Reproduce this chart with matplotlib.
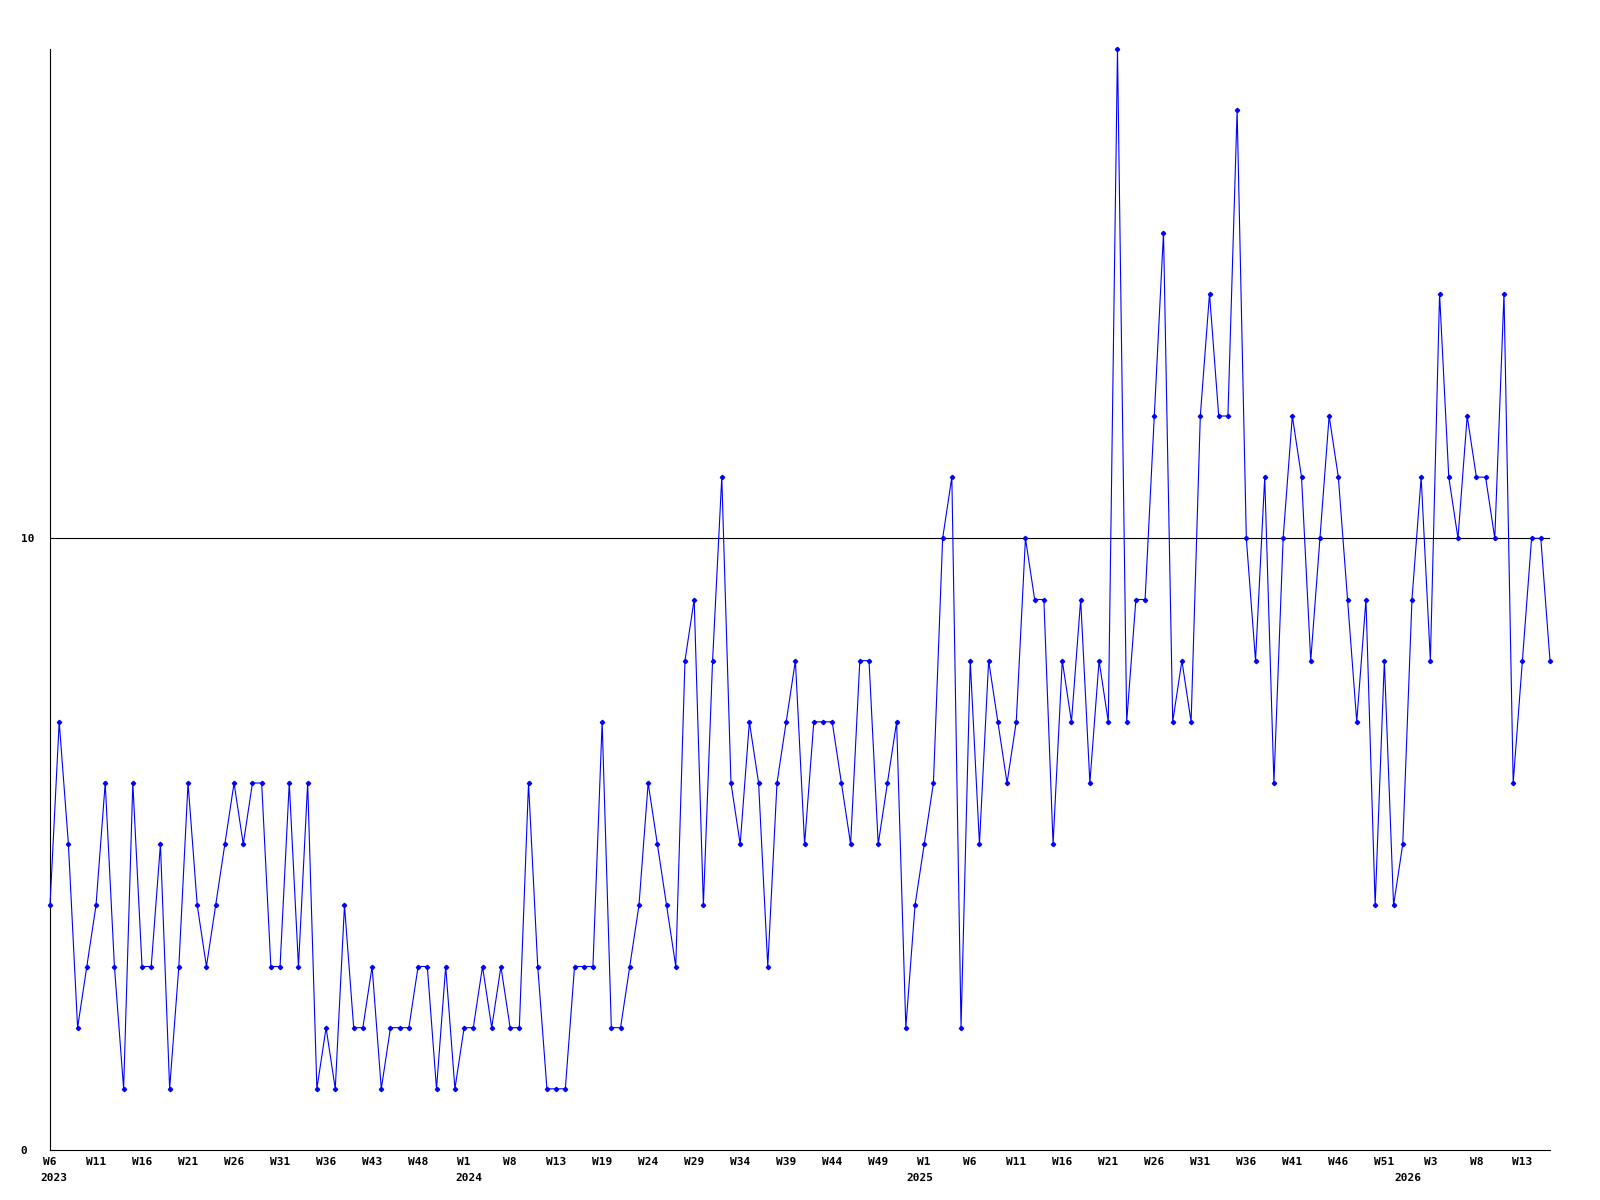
import matplotlib
matplotlib.use('Agg')
import matplotlib.pyplot as plt
import matplotlib.transforms as mtransforms

plt.rcParams["font.family"] = ["DejaVu Sans Mono"]
label_font = {'fontsize': 8, 'fontweight': 'bold'}

# weekly values, 2023 W6 .. 2026 W16
values = [4, 7, 5, 2, 3, 4, 6, 3, 1, 6, 3, 3, 5, 1, 3, 6, 4, 3, 4, 5, 6, 5, 6, 6, 3, 3, 6, 3, 6, 1,
          2, 1, 4, 2, 2, 3, 1, 2, 2, 2, 3, 3, 1, 3, 1, 2, 2, 3, 2, 3, 2, 2, 6, 3, 1, 1, 1, 3, 3, 3,
          7, 2, 2, 3, 4, 6, 5, 4, 3, 8, 9, 4, 8, 11, 6, 5, 7, 6, 3, 6, 7, 8, 5, 7, 7, 7,
          6, 5, 8, 8, 5, 6, 7, 2, 4, 5, 6, 10, 11, 2, 8, 5, 8, 7, 6, 7, 10, 9, 9, 5, 8, 7, 9, 6, 8, 7,
          18, 7, 9, 9, 12, 15, 7, 8, 7, 12, 14, 12, 12, 17, 10, 8, 11, 6, 10, 12, 11, 8,
          10, 12, 11, 9, 7, 9, 4, 8, 4, 5, 9, 11, 8, 14, 11, 10, 12, 11, 11, 10, 14, 6, 8, 10, 10, 8]

week_labels = ['W6', 'W11', 'W16', 'W21', 'W26', 'W31', 'W36', 'W43', 'W48',
               'W1', 'W8', 'W13', 'W19', 'W24', 'W29', 'W34', 'W39', 'W44', 'W49',
               'W1', 'W6', 'W11', 'W16', 'W21', 'W26', 'W31', 'W36', 'W41', 'W46', 'W51',
               'W3', 'W8', 'W13']
year_labels = ['2023', '2024', '2025', '2026']
year_pos = [-1.1, 44.0, 93.1, 146.1]

x = list(range(len(values)))

fig = plt.figure(figsize=(16, 12), dpi=100)
ax = fig.add_axes([50/1600, 50/1200, 1500/1600, 1101/1200])

ax.plot(x, values, color='#0000ff', linewidth=0.8, marker='D', markersize=2.2,
        clip_on=False, zorder=3)
ax.axhline(10, color='black', linewidth=0.8, zorder=2)

ax.set_xlim(0, len(values) - 1)
ax.set_ylim(0, 18)

for side in ['top', 'right']:
    ax.spines[side].set_visible(False)
for side in ['left', 'bottom']:
    ax.spines[side].set_linewidth(0.8)

ax.set_yticks([0, 10])
ax.set_yticklabels(['0', '10'], ha='left', **label_font)
ax.tick_params(axis='y', length=0, pad=21)

ax.set_xticks(range(0, len(values), 5))
ax.set_xticklabels(week_labels, **label_font)
ax.tick_params(axis='x', length=0, pad=5)

trans = mtransforms.blended_transform_factory(ax.transData, ax.transAxes)
for lab, pos in zip(year_labels, year_pos):
    ax.text(pos, -0.021, lab, transform=trans, ha='left', va='top', **label_font)

plt.savefig('out.png', dpi=100)
